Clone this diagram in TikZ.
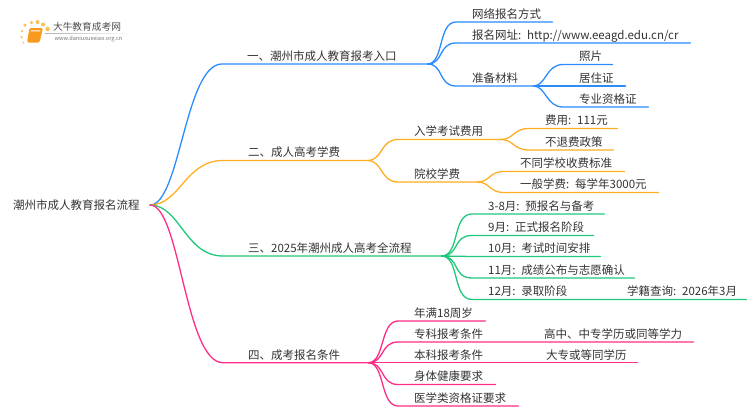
\documentclass[tikz,border=0pt]{standalone}
\usepackage{fontspec}
\setmainfont[WordSpace=0.7]{Noto Sans CJK SC}
\usetikzlibrary{fadings}
\definecolor{bluebr}{HTML}{2A8CFF}
\definecolor{orangebr}{HTML}{FFAE22}
\definecolor{greenbr}{HTML}{1FC97A}
\definecolor{pinkbr}{HTML}{FF2D87}
\definecolor{inktxt}{HTML}{333333}
\definecolor{bookcol}{HTML}{F79A1E}
\definecolor{dotcol}{HTML}{FBC04F}
\tikzset{lab/.style = {anchor = south west, inner xsep = 0, inner ysep = 1, align = left,
                       text height = 10, text depth = 2.5, font = \fontsize{11.5}{12}\selectfont,
                       text = inktxt}}
\tikzset{item/.style = {lab, execute at begin node = {\hspace*{16pt}}}}
\tikzset{head/.style = {lab, execute at begin node = {\hspace*{25pt}}}}
\tikzset{link/.style = {line width = 1.3, line cap = round}}
\tikzset{dot/.style = {fill = dotcol, circle, inner sep = 0, minimum size = #1}}
\begin{document}
\begin{tikzpicture}[x = 1pt, y = -1pt]
      \useasboundingbox (0, 0) rectangle (750, 410);

      % logo
      \node [dot = 3.5] (d1) at (25, 25) {};
      \node [dot = 3.5] (d2) at (31.5, 22.5) {};
      \node [dot = 4] (d3) at (37.5, 22) {};
      \node [dot = 4] (d4) at (43, 24.5) {};
      \node [dot = 4.5] (d5) at (47.5, 29) {};
      \node [dot = 2.5] (d6) at (22, 31) {};
      \node [dot = 2.5] (d7) at (21.5, 37) {};
      \node [dot = 2] (d8) at (23.5, 42.5) {};
      \fill [bookcol, rounded corners = 1.5] (29.5, 28) -- (43, 28) -- (39.5, 42.5) -- (27, 42.5) -- cycle;
      \fill [white, opacity = 0.6] (31, 30) -- (40.5, 30) -- (40.1, 31.5) -- (30.6, 31.5) -- cycle;
      \fill [black!30, path fading = east] (45, 33) rectangle (133, 33.6);
      \node [inner sep = 0, text = black!70, font = \fontsize{9.7}{10}\selectfont] (logotitle) at (87, 27) {大牛教育成考网};
      \node [inner sep = 0, text = black!55, font = \fontsize{5.6}{6}\selectfont] (logourl) at (88.5, 38.5) {www.daniuxuexiao.org.cn};

      % root
      \node [inner sep = 0, text = inktxt, font = \fontsize{11.5}{12}\selectfont, anchor = west] (root) at (13, 205) {潮州市成人教育报名流程};
      \coordinate (hub) at (150, 205);

      % first level
      \node [head, text width = 205] (yi) at (222, 64) {一、潮州市成人教育报考入口};
      \node [head, text width = 144] (er) at (223, 160.5) {二、成人高考学费};
      \node [head, text width = 218] (san) at (223, 256) {三、2025年潮州成人高考全流程};
      \node [head, text width = 145] (si) at (223, 362.7) {四、成考报名条件};

      \draw [link, bluebr] (hub) .. controls (180, 205) and (185, 64) .. (yi.south west) -- (yi.south east);
      \draw [link, orangebr] (hub) .. controls (180, 205) and (185, 160.5) .. (er.south west) -- (er.south east);
      \draw [link, greenbr] (hub) .. controls (180, 205) and (185, 256) .. (san.south west) -- (san.south east);
      \draw [link, pinkbr] (hub) .. controls (180, 205) and (185, 362.7) .. (si.south west) -- (si.south east);

      % branch one
      \node [item, text width = 96] (wl) at (456, 22) {网络报名方式};
      \node [item, text width = 234] (wz) at (456, 43) {报名网址: http://www.eeagd.edu.cn/cr};
      \node [item, text width = 77] (cl) at (456, 86) {准备材料};
      \node [item, text width = 49] (zp) at (563, 64.5) {照片};
      \node [item, text width = 62] (jz) at (563, 86) {居住证};
      \node [item, text width = 85] (zg) at (563, 107) {专业资格证};

      \draw [link, bluebr] (yi.south east) .. controls (444, 64) and (438, 22) .. (wl.south west) -- (wl.south east);
      \draw [link, bluebr] (yi.south east) .. controls (444, 64) and (438, 43) .. (wz.south west) -- (wz.south east);
      \draw [link, bluebr] (yi.south east) .. controls (444, 64) and (438, 86) .. (cl.south west) -- (cl.south east);
      \draw [link, bluebr] (cl.south east) .. controls (546, 86) and (546, 64.5) .. (zp.south west) -- (zp.south east);
      \draw [link, bluebr] (cl.south east) -- (jz.south west) -- (jz.south east);
      \draw [link, bluebr] (cl.south east) .. controls (546, 86) and (546, 107) .. (zg.south west) -- (zg.south east);

      % branch two
      \node [item, text width = 102] (rx) at (398, 139.5) {入学考试费用};
      \node [item, text width = 79] (yx) at (398, 182) {院校学费};
      \node [item, text width = 88] (fy) at (529, 128.5) {费用: 111元};
      \node [item, text width = 84] (bt) at (529, 150) {不退费政策};
      \node [item, text width = 120] (bz) at (504, 171.5) {不同学校收费标准};
      \node [item, text width = 154] (yb) at (504, 192.5) {一般学费: 每学年3000元};

      \draw [link, orangebr] (er.south east) .. controls (383, 160.5) and (380, 139.5) .. (rx.south west) -- (rx.south east);
      \draw [link, orangebr] (er.south east) .. controls (383, 160.5) and (380, 182) .. (yx.south west) -- (yx.south east);
      \draw [link, orangebr] (rx.south east) .. controls (514, 139.5) and (513, 128.5) .. (fy.south west) -- (fy.south east);
      \draw [link, orangebr] (rx.south east) .. controls (514, 139.5) and (513, 150) .. (bt.south west) -- (bt.south east);
      \draw [link, orangebr] (yx.south east) .. controls (490, 182) and (489, 171.5) .. (bz.south west) -- (bz.south east);
      \draw [link, orangebr] (yx.south east) .. controls (490, 182) and (489, 192.5) .. (yb.south west) -- (yb.south east);

      % branch three
      \node [item, text width = 132] (m3) at (472, 214) {3-8月: 预报名与备考};
      \node [item, text width = 121] (m9) at (472, 235.5) {9月: 正式报名阶段};
      \node [item, text width = 128] (m10) at (472, 256.5) {10月: 考试时间安排};
      \node [item, text width = 162] (m11) at (472, 278) {11月: 成绩公布与志愿确认};
      \node [item, text width = 100] (m12) at (472, 299.5) {12月: 录取阶段};
      \node [item, text width = 135] (xj) at (611, 299.5) {学籍查询: 2026年3月};

      \draw [link, greenbr] (san.south east) .. controls (460, 256) and (452, 214) .. (m3.south west) -- (m3.south east);
      \draw [link, greenbr] (san.south east) .. controls (460, 256) and (452, 235.5) .. (m9.south west) -- (m9.south east);
      \draw [link, greenbr] (san.south east) -- (m10.south west) -- (m10.south east);
      \draw [link, greenbr] (san.south east) .. controls (460, 256) and (452, 278) .. (m11.south west) -- (m11.south east);
      \draw [link, greenbr] (san.south east) .. controls (460, 256) and (452, 299.5) .. (m12.south west) -- (m12.south east) -- (xj.south west) -- (xj.south east);

      % branch four
      \node [item, text width = 87] (nm) at (398, 321) {年满18周岁};
      \node [item, text width = 100] (zk) at (398, 342) {专科报考条件};
      \node [item, text width = 100] (bk) at (398, 362.7) {本科报考条件};
      \node [item, text width = 97] (st) at (398, 384.5) {身体健康要求};
      \node [item, text width = 120] (yxl) at (398, 406) {医学类资格证要求};
      \node [item, text width = 165] (gz) at (528, 342) {高中、中专学历或同等学力};
      \node [item, text width = 107] (dz) at (530, 362.7) {大专或等同学历};

      \draw [link, pinkbr] (si.south east) .. controls (385, 362.7) and (380, 321) .. (nm.south west) -- (nm.south east);
      \draw [link, pinkbr] (si.south east) .. controls (385, 362.7) and (380, 342) .. (zk.south west) -- (zk.south east) -- (gz.south west) -- (gz.south east);
      \draw [link, pinkbr] (si.south east) -- (bk.south west) -- (bk.south east) -- (dz.south west) -- (dz.south east);
      \draw [link, pinkbr] (si.south east) .. controls (385, 362.7) and (380, 384.5) .. (st.south west) -- (st.south east);
      \draw [link, pinkbr] (si.south east) .. controls (385, 362.7) and (380, 406) .. (yxl.south west) -- (yxl.south east);
    \end{tikzpicture}
\end{document}
